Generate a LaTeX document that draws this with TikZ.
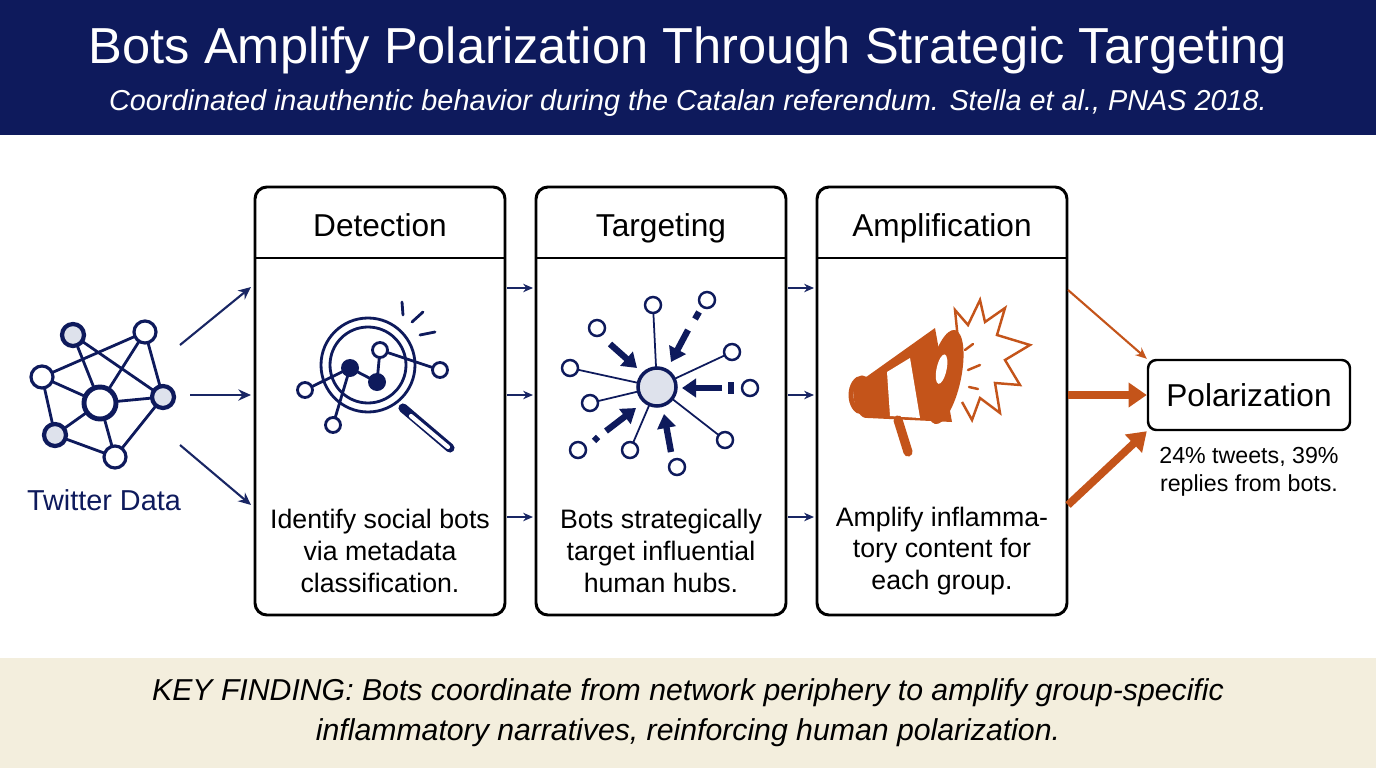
\documentclass[tikz,border=0pt]{standalone}
\usepackage{fontspec}
\setmainfont{Liberation Sans}
\usetikzlibrary{arrows.meta}
\definecolor{navy}{RGB}{14,26,92}
\definecolor{inavy}{RGB}{25,38,100}
\definecolor{beige}{RGB}{243,238,221}
\definecolor{orng}{RGB}{196,84,26}
\definecolor{lgray}{RGB}{222,226,236}
\newcommand{\fs}[2]{\fontsize{#1pt}{#2pt}\selectfont}
\tikzset{
 stagebox/.style={draw=black,line width=4.2pt,rounded corners=17pt},
 flow/.style={draw=inavy,line width=3pt,-{Stealth[length=18pt,width=16pt]}},
 small/.style={draw=inavy,line width=2.4pt,-{Stealth[length=14pt,width=12pt]}},
 ic/.style={draw=navy,line width=4pt},
 tgt/.style={draw=navy,line width=9pt,-{Triangle[length=20pt,width=26pt]}},
}
\begin{document}
\begin{tikzpicture}[x=0.05cm,y=-0.05cm]
\useasboundingbox (0,0) rectangle (1376,768);
\fill[navy] (0,0) rectangle (1376,135);
\fill[beige] (0,658) rectangle (1376,768);
\node (title) at (688,50) {\color{white}\fs{72}{80}Bots Amplify Polarization Through Strategic Targeting};
\node (sub) at (688,103) {\color{white}\fs{41}{48}\itshape Coordinated inauthentic behavior during the Catalan referendum. Stella et al., PNAS 2018.};
\node[align=center,font=\fs{43}{57}\itshape] (key) at (688,713) {KEY FINDING: Bots coordinate from network periphery to amplify group-specific\\inflammatory narratives, reinforcing human polarization.};
% boxes
\foreach \n/\x/\h in {det/255/Detection,tar/536/Targeting,amp/817/Amplification}{
 \draw[stagebox] (\x,187) rectangle (\x+250,615);
 \draw[black,line width=4.2pt] (\x,258) -- (\x+250,258);
 \node[font=\fs{45}{50},anchor=base] (\n) at (\x+125,236) {\h};
}
\tikzset{body/.style={align=center,font=\fs{38}{45}}}
\node[body] (detT) at (380,551) {Identify social bots\\via metadata\\classification.};
\node[body] (tarT) at (661,551) {Bots strategically\\target influential\\human hubs.};
\node[body] (ampT) at (942,551) {Amplify inflamma-\\tory content for\\each group.};
\node[draw=black,line width=3.5pt,rounded corners=12pt,minimum width=202*0.05cm,minimum height=70*0.05cm,font=\fs{45}{50}] (pol) at (1249,395) {Polarization};
\node[align=center,font=\fs{33}{40}] (stat) at (1249,472) {24\% tweets, 39\%\\replies from bots.};
\node[font=\fs{41}{46},text=navy] (tw) at (104,500) {Twitter Data};
% twitter network
\coordinate (A) at (73,335); \coordinate (B) at (145,332); \coordinate (C) at (42,377);
\coordinate (D) at (100,403); \coordinate (E) at (163,397); \coordinate (F) at (55,435); \coordinate (G) at (115,457);
\foreach \a/\b in {A/D,A/E,B/C,B/D,B/E,C/D,C/F,D/E,D/F,D/G,F/G,G/E}{\draw[ic] (\a)--(\b);}
\foreach \p/\r/\c/\w in {A/11/lgray/6,B/11/white/4.5,C/11/white/4.5,D/16/white/7,E/11/lgray/6,F/11/lgray/6,G/11/white/4.5}{\draw[draw=navy,fill=\c,line width=\w pt] (\p) circle (\r);}
% arrows from network
\coordinate (s1) at (180,345); \coordinate (e1) at (251,287);
\coordinate (s2) at (190,395); \coordinate (e2) at (251,395);
\coordinate (s3) at (180,445); \coordinate (e3) at (251,505);
\draw[flow] (s1)--(e1); \draw[flow] (s2)--(e2); \draw[flow] (s3)--(e3);
\foreach \x in {507,788}{\foreach \y in {288,395,517}{
 \coordinate (a\x\y) at (\x,\y); \coordinate (b\x\y) at (\x+26,\y); \draw[small] (a\x\y)--(b\x\y);}}
% magnifier
\coordinate (m1) at (305,390); \coordinate (m2) at (350,368); \coordinate (m3) at (377,382);
\coordinate (m4) at (380,350); \coordinate (m5) at (440,370); \coordinate (m6) at (333,425);
\draw[line width=13pt,navy,line cap=round] (403,408)--(450,448);
\draw[line width=6pt,white,line cap=round] (411,416)--(448,447);
\draw[ic] (368,365) circle (47); \draw[ic] (368,365) circle (38);
\foreach \a/\b in {m1/m2,m2/m3,m3/m4,m4/m5,m2/m6}{\draw[ic] (\a)--(\b);}
\fill[navy] (m2) circle (9); \fill[navy] (m3) circle (9);
\foreach \p in {m1,m4,m5,m6}{\draw[ic,fill=white] (\p) circle (7.5);}
\draw[ic,line cap=round] (402,302)--(403,315); \draw[ic,line cap=round] (412,322)--(423,312); \draw[ic,line cap=round] (420,335)--(435,332);
% targeting
\coordinate (H) at (657,387);
\foreach \p in {(653,305),(570,368),(590,403),(630,450),(725,440),(732,352)}{\draw[navy,line width=2.5pt] (H)--\p; \draw[navy,line width=3.5pt,fill=white] \p circle (8);}
\foreach \p in {(597,328),(750,388),(707,300),(578,450),(677,467)}{\draw[navy,line width=3.5pt,fill=white] \p circle (8);}
\draw[tgt] (610,344)--(637,368);
\draw[tgt] (688,330)--(671,362); \draw[navy,line width=9pt] (699,312)--(695,319);
\draw[tgt] (722,388)--(682,388); \draw[navy,line width=9pt] (731,382)--(731,394);
\draw[tgt] (606,431)--(636,408); \draw[navy,line width=9pt] (594,441)--(598,437);
\draw[tgt] (671,452)--(664,414);
\draw[navy,line width=5pt,fill=lgray] (H) circle (19);
% megaphone
\draw[orng,line width=3.5pt,line join=miter] (958,340)--(955,310)--(968,325)--(980,300)--(985,322)--(1005,308)--(997,335)--(1030,345)--(1005,360)--(1020,385)--(995,383)--(1000,413)--(980,398)--(972,420)--(962,402);
\foreach \p/\q in {{(965,350)}/{(973,344)},{(968,370)}/{(980,365)},{(969,387)}/{(978,389)}}{\draw[orng,line width=3.5pt,line cap=round] \p--\q;}
\draw[orng,line width=7pt,fill=white] (862,395) ellipse (11 and 17);
\fill[orng] (862,380) -- (935,328) -- (952,422) -- (868,418) to[out=190,in=170] (862,380) -- cycle;
\fill[white] (887,372) -- (910,358) -- (920,418) -- (890,416) -- cycle;
\draw[orng,line width=13pt,line cap=round] (898,420)--(908,452);
\fill[orng,rotate around={-12:(945,377)}] (945,377) ellipse (16 and 48);
\fill[white,rotate around={-12:(945,377)}] (940,370) ellipse (5 and 15);
% orange arrows
\coordinate (o1) at (1068,290); \coordinate (o2) at (1068,395); \coordinate (o3) at (1068,505);
\draw[orng,line width=3pt,-{Stealth[length=16pt,width=14pt]}] (o1)--(pol.north west);
\draw[orng,line width=11pt,-{Triangle[length=26pt,width=34pt]}] (o2)--(pol.west);
\draw[orng,line width=11pt,-{Triangle[length=26pt,width=34pt]}] (o3)--(pol.south west);
\end{tikzpicture}
\end{document}
